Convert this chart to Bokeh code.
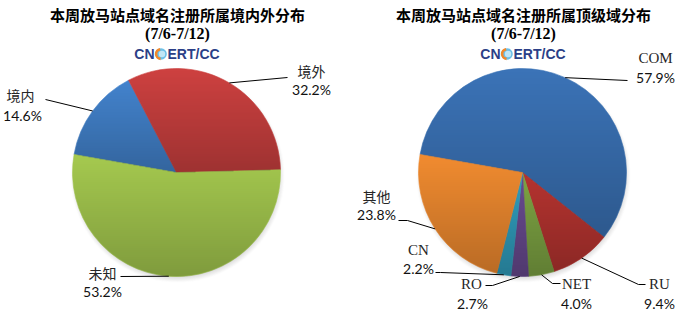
import numpy as np
from bokeh.plotting import figure
from bokeh.models import Range1d
from bokeh.core.properties import value
from bokeh.embed import file_html
from bokeh.resources import INLINE

W, H = 679, 314

# ---------------- data ----------------
left_title = "本周放马站点域名注册所属境内外分布"
right_title = "本周放马站点域名注册所属顶级域分布"
date_label = "(7/6-7/12)"
logo_left = "CN"
logo_right = "ERT/CC"

left_cats = ["境内", "境外", "未知"]
left_vals = [14.6, 32.2, 53.2]

right_cats = ["COM", "RU", "NET", "RO", "CN", "其他"]
right_vals = [57.9, 9.4, 4.0, 2.7, 2.2, 23.8]

# ---------------- style / layout ----------------
left_colors = ["#4383cd", "#cd4140", "#a5c94f"]
right_colors = ["#3b73b7", "#b53430", "#7da343", "#684a8f", "#309dbc", "#f08b30"]

R = 104
START = 170.0  # degrees (math), slices go clockwise
LEFT_C = (176, 172)   # pixel coords (y down)
RIGHT_C = (522, 172)

# label layout (pixel coords, y down): name pos, pct pos, leader path after edge point
left_layout = {
    "境内": dict(name=(20, 94), pct=(22, 115), path=[(45, 99)]),
    "境外": dict(name=(311, 70), pct=(311, 89), path=[(287, 77)]),
    "未知": dict(name=(102, 272), pct=(102, 291), path=[(120, 276)]),
}
right_layout = {
    "COM": dict(name=(655, 57), pct=(655, 77), path=[(627, 80)]),
    "RU": dict(name=(659, 283), pct=(659, 303), path=[(638, 284), (645, 284)]),
    "NET": dict(name=(576, 283), pct=(576, 303), path=[(552, 283), (560, 283)]),
    "RO": dict(name=(471, 283), pct=(472, 303), path=[(492, 285), (485, 285)]),
    "CN": dict(name=(418, 249), pct=(418, 268), path=[(440, 272), (435, 272)]),
    "其他": dict(name=(376, 195), pct=(376, 214), path=[(407, 220), (398, 220)]),
}

CJK = "Noto Sans CJK SC"
TXT = "#262626"


def Y(py):
    return H - py


p = figure(width=W, height=H, x_range=Range1d(0, W), y_range=Range1d(0, H),
           output_backend="svg", toolbar_location=None, min_border=0,
           background_fill_color="white", border_fill_color="white")
p.axis.visible = False
p.xgrid.visible = False
p.ygrid.visible = False
p.outline_line_color = None


def slice_angles(vals):
    tot = float(sum(vals))
    res = []
    cur = START
    for v in vals:
        span = v / tot * 360.0
        res.append((cur - span, cur))
        cur -= span
    return res


def shadow_img(cx, cy, r):
    pad = 10
    n = 2 * (r + pad)
    x0, y0 = cx - r - pad, cy - r - pad
    jj, ii = np.mgrid[0:n, 0:n]
    xs = x0 + ii + 0.5
    ys = y0 + jj + 0.5
    d = np.hypot(xs - (cx + 1), ys - (cy - 3))
    a = 0.28 * np.clip((r + 3 - d) / 7.0, 0, 1)
    img = np.zeros((n, n, 4), dtype=np.uint8)
    img[..., 0] = 110
    img[..., 1] = 110
    img[..., 2] = 110
    img[..., 3] = (a * 255).astype(np.uint8)
    return img.view(dtype=np.uint32).reshape((n, n)), x0, y0, n


def shade_img(cx, cy, r, angles, amax=0.23):
    n = 2 * r + 2
    x0, y0 = cx - r - 1, cy - r - 1
    jj, ii = np.mgrid[0:n, 0:n]
    xs = x0 + ii + 0.5
    ys = y0 + jj + 0.5
    d = np.hypot(xs - cx, ys - cy)
    cov = np.clip(r - d + 0.5, 0, 1)
    ang = np.degrees(np.arctan2(ys - cy, xs - cx))
    alpha = np.zeros((n, n))
    inside = cov > 0
    for (b, a) in angles:
        m = (np.mod(ang - b, 360.0) < (a - b)) & inside
        if not m.any():
            continue
        ytop = ys[m].max()
        ybot = ys[m].min()
        alpha[m] = amax * (ytop - ys[m]) / max(ytop - ybot, 1)
    img = np.zeros((n, n, 4), dtype=np.uint8)
    img[..., 3] = (alpha * cov * 255).astype(np.uint8)
    return img.view(dtype=np.uint32).reshape((n, n)), x0, y0, n


def draw_pie(center, cats, vals, colors, layout):
    cx, cy = center[0], Y(center[1])
    angles = slice_angles(vals)
    s, sx, sy, sn = shadow_img(cx, cy, R)
    p.image_rgba(image=[s], x=sx, y=sy, dw=sn, dh=sn)
    p.wedge(x=[cx] * len(vals), y=[cy] * len(vals), radius=R,
            start_angle=[np.radians(b) for b, a in angles],
            end_angle=[np.radians(a) for b, a in angles],
            fill_color=colors, line_color=colors, line_width=0.6)
    g, gx, gy, gn = shade_img(cx, cy, R, angles)
    p.image_rgba(image=[g], x=gx, y=gy, dw=gn, dh=gn)
    for cat, v, (b, a) in zip(cats, vals, angles):
        lay = layout[cat]
        mid = np.radians((a + b) / 2.0)
        ex, ey = cx + R * np.cos(mid), cy + R * np.sin(mid)
        xs = [ex] + [q[0] for q in lay["path"]]
        ys = [ey] + [Y(q[1]) for q in lay["path"]]
        p.line(xs, ys, line_color="black", line_width=1)
        is_cjk = any(ord(ch) > 0x2e80 for ch in cat)
        p.text(x=[lay["name"][0]], y=[Y(lay["name"][1])], text=[cat],
               text_font=value(CJK if is_cjk else "Liberation Serif"),
               text_font_size="14px" if is_cjk else "15px",
               text_color=TXT, text_align="center", text_baseline="middle")
        p.text(x=[lay["pct"][0]], y=[Y(lay["pct"][1])], text=["%.1f%%" % v],
               text_font=value("Lato"), text_font_size="14px",
               text_color="#111111", text_align="center", text_baseline="middle")


def draw_header(cx, title):
    p.text(x=[cx], y=[Y(14)], text=[title], text_font=value(CJK),
           text_font_style="bold", text_font_size="15px", text_color="black",
           text_align="center", text_baseline="middle")
    p.text(x=[cx], y=[Y(33)], text=[date_label], text_font=value("Liberation Serif"),
           text_font_style="bold", text_font_size="16px", text_color="black",
           text_align="center", text_baseline="middle")
    lc = cx - 1
    ly = Y(53.5)
    p.text(x=[lc - 22], y=[ly], text=[logo_left], text_font=value("Liberation Sans"),
           text_font_style="bold", text_font_size="14px", text_color="#2b3f87",
           text_align="right", text_baseline="middle")
    p.text(x=[lc - 9], y=[ly], text=[logo_right], text_font=value("Liberation Sans"),
           text_font_style="bold", text_font_size="14px", text_color="#2b3f87",
           text_align="left", text_baseline="middle")
    ex = lc - 15.5
    p.circle(x=[ex], y=[ly], radius=5.8, fill_color="#6cc0e8", line_color=None)
    p.circle(x=[ex + 1], y=[ly], radius=3.2, fill_color="#bfe6f6", line_color=None)
    p.annular_wedge(x=[ex], y=[ly], inner_radius=3.6, outer_radius=6.2,
                    start_angle=np.radians(100), end_angle=np.radians(265),
                    fill_color="#f0882a", line_color=None)


draw_header(177, left_title)
draw_header(523, right_title)
draw_pie(LEFT_C, left_cats, left_vals, left_colors, left_layout)
draw_pie(RIGHT_C, right_cats, right_vals, right_colors, right_layout)

open("out.html", "w").write(file_html(p, INLINE))
